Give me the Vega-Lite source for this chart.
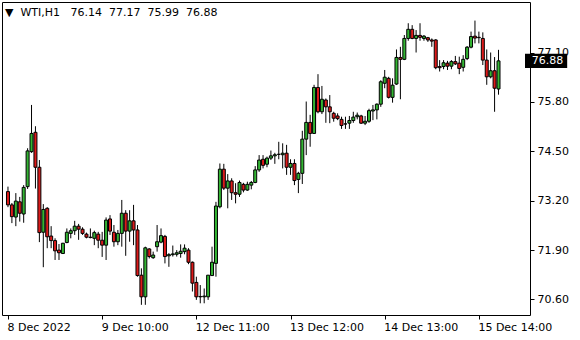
{
  "$schema": "https://vega.github.io/schema/vega-lite/v6.json",
  "width": 528,
  "height": 313,
  "autosize": "none",
  "padding": {"left": 2, "top": 2, "right": 50, "bottom": 25},
  "background": "white",
  "config": {
    "view": {"stroke": "black", "strokeWidth": 1},
    "axis": {"labelFont": "DejaVu Sans", "labelFontSize": 11, "labelColor": "black", "tickColor": "black", "domain": false, "grid": false, "title": null}
  },
  "title": {"text": "▼\u00a0\u00a0WTI,H1\u00a0\u00a0\u00a076.14\u00a0\u00a077.17\u00a0\u00a075.99\u00a0\u00a076.88", "anchor": "start", "offset": -25, "baseline": "alphabetic", "fontSize": 11, "font": "DejaVu Sans", "fontWeight": "normal", "color": "black", "dx": 3},
  "data": {"values": [
    {"i":0,"o":73.44,"h":73.57,"l":73.03,"c":73.09},
    {"i":1,"o":73.09,"h":73.14,"l":72.61,"c":72.78},
    {"i":2,"o":72.77,"h":73.40,"l":72.53,"c":73.19},
    {"i":3,"o":73.17,"h":73.30,"l":72.65,"c":72.87},
    {"i":4,"o":72.85,"h":73.61,"l":72.62,"c":73.55},
    {"i":5,"o":73.57,"h":74.58,"l":73.51,"c":74.51},
    {"i":6,"o":74.49,"h":75.72,"l":74.46,"c":74.97},
    {"i":7,"o":75.00,"h":75.16,"l":73.52,"c":74.08},
    {"i":8,"o":74.08,"h":74.27,"l":72.11,"c":72.36},
    {"i":9,"o":72.37,"h":73.11,"l":71.45,"c":72.97},
    {"i":10,"o":73.00,"h":73.03,"l":71.95,"c":72.25},
    {"i":11,"o":72.27,"h":72.53,"l":71.95,"c":72.15},
    {"i":12,"o":72.15,"h":72.21,"l":71.64,"c":71.88},
    {"i":13,"o":71.90,"h":72.06,"l":71.64,"c":71.83},
    {"i":14,"o":71.81,"h":72.09,"l":71.80,"c":72.08},
    {"i":15,"o":72.10,"h":72.47,"l":72.08,"c":72.37},
    {"i":16,"o":72.34,"h":72.47,"l":72.21,"c":72.41},
    {"i":17,"o":72.41,"h":72.67,"l":72.30,"c":72.53},
    {"i":18,"o":72.53,"h":72.59,"l":72.17,"c":72.45},
    {"i":19,"o":72.45,"h":72.50,"l":72.30,"c":72.34},
    {"i":20,"o":72.32,"h":72.36,"l":72.21,"c":72.24},
    {"i":21,"o":72.24,"h":72.47,"l":72.21,"c":72.23},
    {"i":22,"o":72.21,"h":72.41,"l":72.03,"c":72.36},
    {"i":23,"o":72.32,"h":72.38,"l":71.95,"c":72.16},
    {"i":24,"o":72.16,"h":72.38,"l":71.72,"c":72.03},
    {"i":25,"o":72.03,"h":72.76,"l":71.64,"c":72.69},
    {"i":26,"o":72.72,"h":72.82,"l":72.30,"c":72.40},
    {"i":27,"o":72.37,"h":72.56,"l":71.99,"c":72.12},
    {"i":28,"o":72.12,"h":72.43,"l":72.03,"c":72.34},
    {"i":29,"o":72.34,"h":73.22,"l":71.99,"c":72.87},
    {"i":30,"o":72.87,"h":72.95,"l":71.75,"c":72.40},
    {"i":31,"o":72.40,"h":72.95,"l":72.12,"c":72.67},
    {"i":32,"o":72.67,"h":73.09,"l":72.03,"c":72.43},
    {"i":33,"o":72.43,"h":72.56,"l":71.20,"c":71.23},
    {"i":34,"o":71.24,"h":71.42,"l":70.46,"c":70.67},
    {"i":35,"o":70.67,"h":71.99,"l":70.46,"c":71.96},
    {"i":36,"o":71.93,"h":71.95,"l":71.68,"c":71.73},
    {"i":37,"o":71.70,"h":71.86,"l":71.67,"c":71.77},
    {"i":38,"o":71.99,"h":72.56,"l":71.86,"c":72.12},
    {"i":39,"o":72.11,"h":72.47,"l":72.08,"c":72.28},
    {"i":40,"o":72.26,"h":72.30,"l":71.55,"c":71.73},
    {"i":41,"o":71.75,"h":71.82,"l":71.46,"c":71.78},
    {"i":42,"o":71.78,"h":72.02,"l":71.73,"c":71.80},
    {"i":43,"o":71.79,"h":71.90,"l":71.73,"c":71.83},
    {"i":44,"o":71.81,"h":72.05,"l":71.70,"c":71.87},
    {"i":45,"o":71.86,"h":72.05,"l":71.79,"c":71.95},
    {"i":46,"o":71.90,"h":71.95,"l":71.53,"c":71.58},
    {"i":47,"o":71.58,"h":71.60,"l":70.81,"c":71.03},
    {"i":48,"o":71.05,"h":71.20,"l":70.59,"c":70.67},
    {"i":49,"o":70.68,"h":70.98,"l":70.50,"c":70.67},
    {"i":50,"o":70.67,"h":70.89,"l":70.50,"c":70.69},
    {"i":51,"o":70.67,"h":71.24,"l":70.59,"c":71.24},
    {"i":52,"o":71.23,"h":71.99,"l":71.23,"c":71.58},
    {"i":53,"o":71.55,"h":73.17,"l":71.20,"c":73.06},
    {"i":54,"o":73.04,"h":74.18,"l":73.00,"c":74.03},
    {"i":55,"o":74.03,"h":74.17,"l":73.48,"c":73.53},
    {"i":56,"o":73.53,"h":73.90,"l":73.00,"c":73.72},
    {"i":57,"o":73.72,"h":73.79,"l":73.22,"c":73.41},
    {"i":58,"o":73.41,"h":73.66,"l":73.13,"c":73.37},
    {"i":59,"o":73.37,"h":73.73,"l":73.30,"c":73.68},
    {"i":60,"o":73.63,"h":73.67,"l":73.42,"c":73.48},
    {"i":61,"o":73.48,"h":73.70,"l":73.46,"c":73.63},
    {"i":62,"o":73.61,"h":73.72,"l":73.50,"c":73.68},
    {"i":63,"o":73.68,"h":74.11,"l":73.66,"c":74.01},
    {"i":64,"o":74.01,"h":74.40,"l":73.96,"c":74.27},
    {"i":65,"o":74.29,"h":74.40,"l":74.05,"c":74.13},
    {"i":66,"o":74.16,"h":74.36,"l":74.08,"c":74.32},
    {"i":67,"o":74.32,"h":74.52,"l":74.27,"c":74.38},
    {"i":68,"o":74.38,"h":74.46,"l":74.17,"c":74.41},
    {"i":69,"o":74.42,"h":74.75,"l":74.29,"c":74.42},
    {"i":70,"o":74.41,"h":74.71,"l":74.05,"c":74.45},
    {"i":71,"o":74.45,"h":74.67,"l":73.88,"c":74.08},
    {"i":72,"o":74.08,"h":74.29,"l":73.88,"c":74.18},
    {"i":73,"o":74.18,"h":74.29,"l":73.61,"c":73.73},
    {"i":74,"o":73.76,"h":73.96,"l":73.40,"c":73.92},
    {"i":75,"o":73.92,"h":75.04,"l":73.64,"c":74.82},
    {"i":76,"o":74.82,"h":75.81,"l":74.40,"c":75.26},
    {"i":77,"o":75.26,"h":75.46,"l":74.62,"c":74.97},
    {"i":78,"o":74.97,"h":76.25,"l":74.96,"c":76.18},
    {"i":79,"o":76.18,"h":76.53,"l":75.50,"c":75.54},
    {"i":80,"o":75.54,"h":76.22,"l":75.48,"c":75.87},
    {"i":81,"o":75.85,"h":75.89,"l":75.25,"c":75.67},
    {"i":82,"o":75.67,"h":75.98,"l":75.24,"c":75.54},
    {"i":83,"o":75.50,"h":75.54,"l":75.28,"c":75.37},
    {"i":84,"o":75.43,"h":75.50,"l":75.32,"c":75.36},
    {"i":85,"o":75.34,"h":75.41,"l":75.09,"c":75.18},
    {"i":86,"o":75.22,"h":75.41,"l":75.09,"c":75.22},
    {"i":87,"o":75.24,"h":75.43,"l":75.09,"c":75.31},
    {"i":88,"o":75.31,"h":75.54,"l":75.25,"c":75.40},
    {"i":89,"o":75.41,"h":75.52,"l":75.34,"c":75.45},
    {"i":90,"o":75.43,"h":75.46,"l":75.22,"c":75.24},
    {"i":91,"o":75.24,"h":75.43,"l":75.19,"c":75.29},
    {"i":92,"o":75.29,"h":75.62,"l":75.25,"c":75.57},
    {"i":93,"o":75.56,"h":75.72,"l":75.32,"c":75.59},
    {"i":94,"o":75.59,"h":75.76,"l":75.34,"c":75.74},
    {"i":95,"o":75.74,"h":76.37,"l":75.67,"c":76.33},
    {"i":96,"o":76.29,"h":76.64,"l":76.16,"c":76.45},
    {"i":97,"o":76.42,"h":76.46,"l":75.89,"c":75.92},
    {"i":98,"o":75.92,"h":76.42,"l":75.78,"c":76.24},
    {"i":99,"o":76.27,"h":77.18,"l":76.25,"c":76.97},
    {"i":100,"o":76.97,"h":77.25,"l":75.87,"c":76.92},
    {"i":101,"o":76.92,"h":77.56,"l":76.90,"c":77.47},
    {"i":102,"o":77.47,"h":77.87,"l":77.41,"c":77.71},
    {"i":103,"o":77.71,"h":77.82,"l":77.45,"c":77.47},
    {"i":104,"o":77.47,"h":77.69,"l":77.10,"c":77.55},
    {"i":105,"o":77.55,"h":77.87,"l":77.41,"c":77.50},
    {"i":106,"o":77.47,"h":77.56,"l":77.41,"c":77.53},
    {"i":107,"o":77.49,"h":77.51,"l":77.38,"c":77.43},
    {"i":108,"o":77.43,"h":77.47,"l":77.25,"c":77.40},
    {"i":109,"o":77.43,"h":77.45,"l":76.66,"c":76.70},
    {"i":110,"o":76.73,"h":76.90,"l":76.60,"c":76.70},
    {"i":111,"o":76.73,"h":76.90,"l":76.66,"c":76.83},
    {"i":112,"o":76.82,"h":76.88,"l":76.64,"c":76.74},
    {"i":113,"o":76.74,"h":76.90,"l":76.66,"c":76.86},
    {"i":114,"o":76.86,"h":77.01,"l":76.77,"c":76.80},
    {"i":115,"o":76.82,"h":76.99,"l":76.53,"c":76.68},
    {"i":116,"o":76.71,"h":77.03,"l":76.60,"c":76.92},
    {"i":117,"o":76.94,"h":77.27,"l":76.90,"c":77.24},
    {"i":118,"o":77.24,"h":77.65,"l":77.21,"c":77.52},
    {"i":119,"o":77.53,"h":77.94,"l":77.34,"c":77.48},
    {"i":120,"o":77.50,"h":77.65,"l":77.34,"c":77.49},
    {"i":121,"o":77.47,"h":77.63,"l":76.77,"c":76.90},
    {"i":122,"o":76.90,"h":77.18,"l":76.25,"c":76.46},
    {"i":123,"o":76.46,"h":77.10,"l":76.42,"c":76.62},
    {"i":124,"o":76.62,"h":76.98,"l":75.54,"c":76.16},
    {"i":125,"o":76.14,"h":77.17,"l":75.99,"c":76.88}
  ]},
  "layer": [
    {
      "mark": {"type": "rule", "color": "black", "strokeWidth": 1},
      "encoding": {
        "x": {"field": "i", "type": "quantitative", "scale": {"domain": [-0.25, 131.75], "nice": false, "zero": false},
          "axis": {"values": [0, 24, 48, 72, 96, 120], "labelExpr": "datum.value == 0 ? '8 Dec 2022' : datum.value == 24 ? '9 Dec 10:00' : datum.value == 48 ? '12 Dec 11:00' : datum.value == 72 ? '13 Dec 12:00' : datum.value == 96 ? '14 Dec 13:00' : '15 Dec 14:00'", "labelAlign": "left", "labelFlush": false, "labelOverlap": false, "labelOffset": -1, "tickSize": 4, "labelPadding": 2}},
        "y": {"field": "l", "type": "quantitative", "scale": {"domain": [70.192, 78.429], "nice": false, "zero": false},
          "axis": {"orient": "right", "values": [70.6, 71.9, 73.2, 74.5, 75.8, 77.1], "format": ".2f", "tickSize": 4, "labelPadding": 3}},
        "y2": {"field": "h"}
      }
    },
    {
      "mark": {"type": "bar", "size": 3, "stroke": "black", "strokeWidth": 1},
      "encoding": {
        "x": {"field": "i", "type": "quantitative"},
        "y": {"field": "o", "type": "quantitative"},
        "y2": {"field": "c"},
        "fill": {"condition": {"test": "datum.c > datum.o", "value": "#33b533"}, "value": "#dd1a1a"}
      }
    },
    {
      "data": {"values": [{"last": 76.88}]},
      "mark": {"type": "rect", "color": "black"},
      "encoding": {
        "x": {"datum": 131.75}, "x2": {"datum": 142.5},
        "y": {"datum": 77.07}, "y2": {"datum": 76.69}
      }
    },
    {
      "data": {"values": [{"last": 76.88}]},
      "mark": {"type": "text", "color": "white", "align": "left", "baseline": "middle", "font": "DejaVu Sans", "fontSize": 11},
      "encoding": {
        "x": {"datum": 133.5},
        "y": {"field": "last", "type": "quantitative"},
        "text": {"field": "last", "type": "quantitative", "format": ".2f"}
      }
    }
  ]
}
